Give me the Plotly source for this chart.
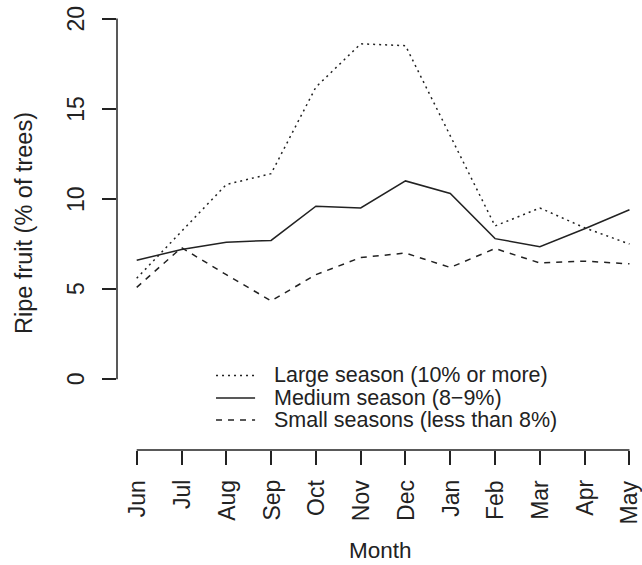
import plotly.graph_objects as go

# Monthly share of trees carrying ripe fruit, by season size
months = ["Jun", "Jul", "Aug", "Sep", "Oct", "Nov", "Dec", "Jan", "Feb", "Mar", "Apr", "May"]
large_season = [5.6, 8.2, 10.8, 11.4, 16.2, 18.6, 18.5, 13.5, 8.5, 9.5, 8.4, 7.5]
medium_season = [6.6, 7.2, 7.6, 7.7, 9.6, 9.5, 11.0, 10.3, 7.8, 7.35, 8.35, 9.4]
small_seasons = [5.1, 7.3, 5.8, 4.35, 5.8, 6.75, 7.0, 6.2, 7.25, 6.45, 6.55, 6.4]

series_names = ["Large season (10% or more)", "Medium season (8\u22129%)", "Small seasons (less than 8%)"]
series_values = [large_season, medium_season, small_seasons]
series_dash = ["2px,4px", "solid", "6px,6px"]

y_ticks = [0, 5, 10, 15, 20]

INK = "#222222"
FONT = "Liberation Sans, Arial, Helvetica, sans-serif"
FS = 21.5
TICK_FS = 23

fig = go.Figure()
for name, vals, dash in zip(series_names, series_values, series_dash):
    fig.add_trace(go.Scatter(
        x=months, y=vals, mode="lines", name=name, showlegend=False,
        line=dict(color=INK, width=1.5, dash=dash),
    ))

# axis lines spanning only the tick range
shapes = [
    dict(type="line", xref="paper", yref="y", x0=0, x1=0, y0=y_ticks[0], y1=y_ticks[-1],
         line=dict(color=INK, width=1.5)),
    dict(type="line", xref="x", yref="paper", x0=0, x1=len(months) - 1, y0=0, y1=0,
         line=dict(color=INK, width=1.5)),
]

annotations = []

# rotated tick labels, set a little further out from the tick marks
for v in y_ticks:
    annotations.append(dict(text=str(v), xref="paper", yref="y", x=0, y=v, xshift=-41,
                            textangle=-90, xanchor="center", yanchor="middle", showarrow=False,
                            font=dict(family=FONT, size=TICK_FS, color=INK)))
for m in months:
    annotations.append(dict(text=m, xref="x", yref="paper", x=m, y=0, yshift=-28,
                            textangle=-90, xanchor="center", yanchor="top", showarrow=False,
                            font=dict(family=FONT, size=TICK_FS, color=INK)))

# legend block: sample lines and labels
leg_rows = [0.1663, 0.116, 0.067]
for name, dash, yy in zip(series_names, series_dash, leg_rows):
    shapes.append(dict(type="line", xref="paper", yref="paper", x0=0.1886, x1=0.263, y0=yy, y1=yy,
                       line=dict(color=INK, width=1.5, dash=dash)))
    annotations.append(dict(text=name, xref="paper", yref="paper", x=0.296, y=yy,
                            xanchor="left", yanchor="middle", showarrow=False,
                            font=dict(family=FONT, size=FS, color=INK)))

# axis titles
annotations.append(dict(text="Ripe fruit (% of trees)", xref="paper", yref="paper", x=0, y=0.5,
                        xshift=-93, yshift=3, textangle=-90, xanchor="center", yanchor="middle",
                        showarrow=False, font=dict(family=FONT, size=23.5, color=INK)))
annotations.append(dict(text="Month", xref="paper", yref="paper", x=0.5, y=0, xshift=1, yshift=-100,
                        xanchor="center", yanchor="middle",
                        showarrow=False, font=dict(family=FONT, size=22.5, color=INK)))

fig.update_layout(
    width=642, height=565,
    margin=dict(l=117, r=0, t=2, b=115),
    paper_bgcolor="white", plot_bgcolor="white",
    font=dict(family=FONT, size=FS, color=INK),
    shapes=shapes, annotations=annotations,
    xaxis=dict(type="category", range=[-0.44, 11.28], showgrid=False, zeroline=False, showline=False,
               ticks="outside", ticklen=14, tickwidth=1.5, tickcolor=INK, showticklabels=False),
    yaxis=dict(range=[-3.92, 20.92], tickvals=y_ticks, showgrid=False, zeroline=False, showline=False,
               ticks="outside", ticklen=14, tickwidth=1.5, tickcolor=INK, showticklabels=False),
)

fig.write_html("out.html")
